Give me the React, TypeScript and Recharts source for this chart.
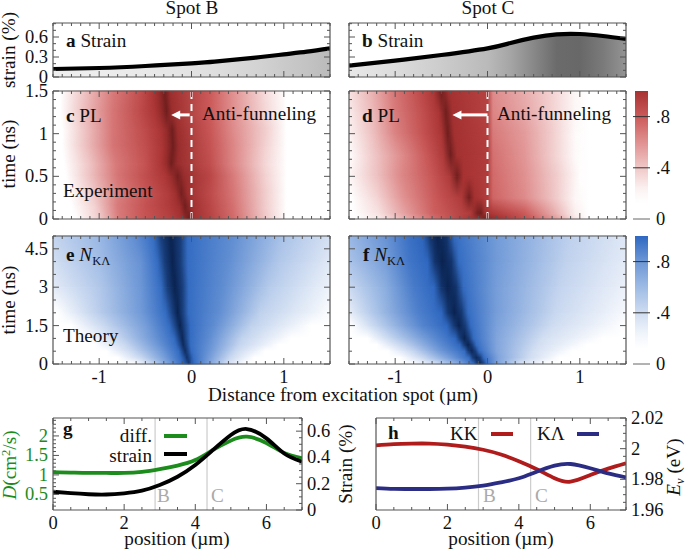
import React from 'react';
import { ComposedChart, Area, Line, XAxis, YAxis, ReferenceArea, ReferenceLine } from 'recharts';

type Stop = [number, number];
type HeatRow = [number, Stop[]];

// strain panels a, b
const strainX = [-1.5, -1, -0.5, 0, 0.25, 0.5, 0.75, 1, 1.25, 1.5];
const strainSpotB = [0.12, 0.135, 0.165, 0.205, 0.23, 0.265, 0.3, 0.34, 0.38, 0.43];
const strainSpotC = [0.17, 0.245, 0.33, 0.43, 0.51, 0.59, 0.64, 0.645, 0.615, 0.57];

// heat rows: time, then [position, intensity] colour stops
const rowsC: HeatRow[] = [
  [0, [[-1.25, 0.1], [-1, 0.38], [-0.78, 0.68], [-0.52, 0.82], [-0.25, 0.92], [-0.1, 1.02], [-0.03, 1.3], [0.03, 1.02], [0.2, 0.92], [0.45, 0.74], [0.8, 0.4], [1.03, 0.1]]],
  [0.15, [[-1.3, 0.1], [-1.05, 0.36], [-0.8, 0.68], [-0.5, 0.84], [-0.25, 0.95], [-0.13, 1.05], [-0.07, 1.3], [0, 1.05], [0.2, 0.9], [0.45, 0.72], [0.8, 0.38], [1.03, 0.1]]],
  [0.3, [[-1.33, 0.1], [-1.08, 0.38], [-0.8, 0.66], [-0.5, 0.82], [-0.25, 0.95], [-0.17, 1.05], [-0.11, 1.28], [-0.04, 1.05], [0.2, 0.88], [0.45, 0.7], [0.8, 0.38], [1.03, 0.1]]],
  [0.5, [[-1.36, 0.1], [-1.1, 0.42], [-0.8, 0.7], [-0.5, 0.86], [-0.28, 0.98], [-0.21, 1.1], [-0.15, 1.28], [-0.08, 1.08], [0.2, 0.9], [0.45, 0.68], [0.8, 0.36], [1.03, 0.1]]],
  [0.65, [[-1.38, 0.1], [-1.12, 0.4], [-0.82, 0.68], [-0.5, 0.84], [-0.33, 0.98], [-0.27, 1.1], [-0.22, 1.3], [-0.15, 1.08], [0.2, 0.86], [0.45, 0.64], [0.8, 0.34], [1.03, 0.1]]],
  [0.85, [[-1.4, 0.1], [-1.15, 0.42], [-0.85, 0.7], [-0.5, 0.86], [-0.32, 0.98], [-0.26, 1.1], [-0.2, 1.32], [-0.14, 1.08], [0.2, 0.84], [0.45, 0.64], [0.8, 0.36], [1.03, 0.1]]],
  [1.05, [[-1.4, 0.1], [-1.15, 0.42], [-0.85, 0.7], [-0.5, 0.88], [-0.34, 0.98], [-0.27, 1.1], [-0.21, 1.3], [-0.15, 1.06], [0.2, 0.82], [0.45, 0.62], [0.8, 0.38], [1.03, 0.1]]],
  [1.25, [[-1.42, 0.1], [-1.18, 0.42], [-0.85, 0.7], [-0.55, 0.88], [-0.4, 0.98], [-0.33, 1.1], [-0.27, 1.3], [-0.21, 1.06], [0.2, 0.8], [0.45, 0.6], [0.8, 0.34], [1.03, 0.1]]],
  [1.5, [[-1.42, 0.1], [-1.18, 0.4], [-0.85, 0.68], [-0.55, 0.86], [-0.42, 0.98], [-0.35, 1.1], [-0.29, 1.3], [-0.23, 1.06], [0.2, 0.8], [0.45, 0.6], [0.8, 0.32], [1.03, 0.1]]],
];

const rowsD: HeatRow[] = [
  [0, [[-1.42, 0.1], [-1.15, 0.28], [-0.9, 0.48], [-0.6, 0.72], [-0.25, 0.95], [-0.07, 1.1], [-0.03, 1.32], [0.01, 1.15], [0.15, 1], [0.45, 0.82], [0.75, 0.55], [0.95, 0.28], [1.1, 0.1]]],
  [0.07, [[-1.45, 0.12], [-1.18, 0.3], [-0.9, 0.54], [-0.58, 0.78], [-0.18, 0.96], [-0.11, 1.25], [-0.07, 1.3], [-0.03, 1.05], [0.02, 0.98], [0.4, 0.8], [0.72, 0.5], [0.95, 0.24], [1.1, 0.08]]],
  [0.25, [[-1.48, 0.14], [-1.2, 0.35], [-0.9, 0.6], [-0.55, 0.82], [-0.28, 0.96], [-0.2, 1.28], [-0.14, 1.02], [0, 0.94], [0.06, 0.76], [0.4, 0.62], [0.7, 0.42], [0.95, 0.2], [1.1, 0.08]]],
  [0.5, [[-1.5, 0.2], [-1.2, 0.42], [-0.95, 0.62], [-0.6, 0.82], [-0.41, 0.96], [-0.33, 1.3], [-0.26, 1], [0, 0.95], [0.06, 0.74], [0.4, 0.6], [0.75, 0.38], [1, 0.16], [1.12, 0.06]]],
  [0.75, [[-1.5, 0.16], [-1.2, 0.42], [-0.95, 0.6], [-0.65, 0.82], [-0.48, 0.96], [-0.4, 1.3], [-0.33, 1.02], [0, 0.95], [0.06, 0.72], [0.4, 0.58], [0.7, 0.38], [0.95, 0.18], [1.1, 0.06]]],
  [1, [[-1.5, 0.22], [-1.25, 0.42], [-1, 0.65], [-0.7, 0.84], [-0.5, 0.98], [-0.43, 1.3], [-0.36, 1.02], [0, 0.94], [0.06, 0.68], [0.4, 0.56], [0.7, 0.38], [0.95, 0.18], [1.1, 0.06]]],
  [1.25, [[-1.5, 0.26], [-1.25, 0.45], [-1, 0.68], [-0.7, 0.86], [-0.53, 0.98], [-0.45, 1.3], [-0.38, 1.02], [0, 0.92], [0.06, 0.64], [0.4, 0.52], [0.7, 0.36], [0.95, 0.2], [1.1, 0.06]]],
  [1.5, [[-1.5, 0.3], [-1.25, 0.48], [-1, 0.7], [-0.75, 0.86], [-0.58, 0.98], [-0.5, 1.33], [-0.42, 1.02], [0, 0.92], [0.06, 0.62], [0.4, 0.5], [0.7, 0.36], [0.95, 0.2], [1.1, 0.06]]],
];

const rowsE: HeatRow[] = [
  [0, [[-0.62, 0.12], [-0.45, 0.4], [-0.25, 0.75], [-0.1, 0.98], [-0.05, 1.15], [-0.03, 1.3], [-0.005, 1.15], [0.03, 0.98], [0.2, 0.72], [0.38, 0.4], [0.58, 0.12]]],
  [0.25, [[-0.8, 0.12], [-0.55, 0.42], [-0.3, 0.75], [-0.12, 0.98], [-0.07, 1.18], [-0.05, 1.32], [-0.02, 1.18], [0.02, 0.98], [0.2, 0.76], [0.42, 0.42], [0.68, 0.12]]],
  [0.5, [[-0.92, 0.12], [-0.65, 0.42], [-0.35, 0.75], [-0.14, 0.98], [-0.1, 1.18], [-0.07, 1.35], [-0.035, 1.18], [0, 0.98], [0.2, 0.8], [0.48, 0.42], [0.8, 0.12]]],
  [0.75, [[-1.05, 0.12], [-0.72, 0.42], [-0.4, 0.76], [-0.17, 0.98], [-0.12, 1.2], [-0.09, 1.36], [-0.05, 1.2], [-0.01, 0.98], [0.2, 0.82], [0.52, 0.44], [0.95, 0.12]]],
  [1, [[-1.14, 0.12], [-0.8, 0.42], [-0.45, 0.76], [-0.19, 0.98], [-0.14, 1.2], [-0.1, 1.38], [-0.06, 1.2], [-0.01, 0.98], [0.2, 0.84], [0.55, 0.45], [1.08, 0.12]]],
  [1.5, [[-1.3, 0.12], [-0.95, 0.42], [-0.5, 0.76], [-0.24, 0.98], [-0.18, 1.2], [-0.125, 1.4], [-0.07, 1.2], [-0.01, 0.98], [0.25, 0.84], [0.65, 0.46], [1.3, 0.12]]],
  [2, [[-1.45, 0.12], [-1.1, 0.42], [-0.55, 0.78], [-0.28, 0.98], [-0.21, 1.22], [-0.15, 1.42], [-0.09, 1.22], [-0.03, 0.98], [0.3, 0.84], [0.75, 0.46], [1.5, 0.14]]],
  [3, [[-1.5, 0.3], [-1, 0.52], [-0.55, 0.8], [-0.33, 0.98], [-0.26, 1.25], [-0.18, 1.45], [-0.1, 1.25], [-0.03, 0.98], [0.35, 0.84], [0.85, 0.5], [1.5, 0.25]]],
  [4, [[-1.5, 0.38], [-1, 0.58], [-0.55, 0.82], [-0.37, 0.98], [-0.29, 1.25], [-0.205, 1.45], [-0.12, 1.25], [-0.04, 0.98], [0.4, 0.84], [0.95, 0.52], [1.5, 0.32]]],
  [5, [[-1.5, 0.45], [-1, 0.62], [-0.6, 0.85], [-0.41, 0.98], [-0.33, 1.25], [-0.225, 1.45], [-0.12, 1.25], [-0.04, 0.98], [0.45, 0.84], [1, 0.55], [1.5, 0.38]]],
];

const rowsF: HeatRow[] = [
  [0, [[-0.8, 0.12], [-0.55, 0.4], [-0.3, 0.72], [-0.15, 0.98], [-0.115, 1.25], [-0.08, 1.36], [-0.045, 1.25], [-0.01, 0.98], [0.1, 0.75], [0.35, 0.38], [0.64, 0.12]]],
  [0.25, [[-0.95, 0.12], [-0.7, 0.42], [-0.4, 0.78], [-0.2, 0.98], [-0.16, 1.25], [-0.12, 1.36], [-0.08, 1.25], [-0.04, 0.98], [0.12, 0.72], [0.45, 0.4], [0.78, 0.12]]],
  [0.5, [[-1.08, 0.12], [-0.8, 0.44], [-0.5, 0.8], [-0.25, 0.98], [-0.21, 1.25], [-0.17, 1.38], [-0.13, 1.25], [-0.09, 0.98], [0.1, 0.72], [0.5, 0.38], [0.92, 0.12]]],
  [0.75, [[-1.2, 0.12], [-0.9, 0.46], [-0.55, 0.82], [-0.3, 1], [-0.255, 1.25], [-0.21, 1.4], [-0.165, 1.25], [-0.12, 0.98], [0.1, 0.72], [0.55, 0.38], [1.08, 0.12]]],
  [1, [[-1.3, 0.12], [-1, 0.48], [-0.6, 0.84], [-0.35, 1], [-0.3, 1.25], [-0.25, 1.42], [-0.2, 1.25], [-0.15, 0.98], [0.1, 0.72], [0.6, 0.38], [1.25, 0.12]]],
  [1.5, [[-1.48, 0.12], [-1.15, 0.5], [-0.7, 0.88], [-0.44, 1], [-0.37, 1.25], [-0.31, 1.42], [-0.24, 1.25], [-0.18, 0.98], [0.1, 0.74], [0.7, 0.4], [1.5, 0.12]]],
  [2, [[-1.5, 0.28], [-1.2, 0.55], [-0.75, 0.9], [-0.5, 1], [-0.43, 1.28], [-0.36, 1.45], [-0.28, 1.28], [-0.21, 0.98], [0.1, 0.76], [0.75, 0.42], [1.5, 0.18]]],
  [3, [[-1.5, 0.42], [-1.1, 0.68], [-0.8, 0.92], [-0.58, 1], [-0.5, 1.3], [-0.43, 1.45], [-0.34, 1.3], [-0.26, 0.98], [0.1, 0.76], [0.8, 0.44], [1.5, 0.26]]],
  [4, [[-1.5, 0.55], [-1.1, 0.76], [-0.85, 0.94], [-0.65, 1], [-0.57, 1.3], [-0.49, 1.45], [-0.39, 1.3], [-0.31, 0.98], [0.1, 0.78], [0.85, 0.46], [1.5, 0.3]]],
  [5, [[-1.5, 0.62], [-1.1, 0.82], [-0.85, 0.96], [-0.7, 1.02], [-0.62, 1.3], [-0.54, 1.45], [-0.44, 1.3], [-0.36, 0.98], [0.1, 0.78], [0.9, 0.47], [1.5, 0.33]]],
];

// colour maps
const redMap: [number, string][] = [[0, '#ffffff'], [0.15, '#ffffff'], [0.25, '#fbeeee'], [0.4, '#f0c8c8'], [0.6, '#e09090'], [0.8, '#cc5a5a'], [1, '#a83232'], [1.3, '#701e1e']];
const blueMap: [number, string][] = [[0, '#ffffff'], [0.12, '#ffffff'], [0.25, '#eef3fa'], [0.4, '#cfdcf1'], [0.6, '#9ebbe5'], [0.8, '#6d97d6'], [1, '#2f68c1'], [1.4, '#0a2350']];
const grayMap: [number, string][] = [[0, '#ffffff'], [0.2, '#e4e4e4'], [0.45, '#b6b6b6'], [0.57, '#949494'], [0.645, '#686868']];
const barLevels = [0, 0.12, 0.2, 0.25, 0.4, 0.6, 0.8, 1];

// bottom panels g, h
const positions = [0, 0.5, 1, 1.5, 2, 2.5, 3, 3.5, 4, 4.5, 5, 5.45, 6, 6.5, 7];
const diffusion = [1.07, 1.06, 1.05, 1.05, 1.05, 1.08, 1.15, 1.24, 1.38, 1.64, 1.88, 1.98, 1.82, 1.56, 1.43];
const strainLine = [0.139, 0.128, 0.12, 0.118, 0.127, 0.147, 0.19, 0.253, 0.342, 0.457, 0.57, 0.616, 0.545, 0.43, 0.367];
const energyKK = [2.0022, 2.003, 2.0033, 2.0033, 2.0026, 2.0013, 1.9993, 1.9962, 1.9918, 1.9866, 1.9807, 1.9785, 1.9828, 1.987, 1.9905];
const energyKL = [1.9743, 1.9738, 1.9737, 1.9737, 1.9739, 1.9746, 1.9759, 1.978, 1.9807, 1.985, 1.9889, 1.99, 1.9872, 1.9839, 1.9813];
const spotLines = [2.87, 4.33];

const FRAME = '#555';
const GREEN = '#1c8c1c';
const FS = 18.5;
const TEXT_FS = 19.2;

function steps(a: number, b: number, s: number) {
  const out: number[] = [];
  const n = Math.round((b - a) / s);
  for (let i = 0; i <= n; i++) out.push(+(a + i * s).toFixed(4));
  return out;
}

function lookup(map: [number, string][], v: number) {
  if (v <= map[0][0]) return map[0][1];
  for (let i = 1; i < map.length; i++) {
    if (v <= map[i][0]) {
      const [a, ca] = map[i - 1];
      const [b, cb] = map[i];
      const f = (v - a) / (b - a);
      const ch = (c: string, k: number) => parseInt(c.slice(k, k + 2), 16);
      const mix = (k: number) => Math.round(ch(ca, k) + (ch(cb, k) - ch(ca, k)) * f);
      return `rgb(${mix(1)},${mix(3)},${mix(5)})`;
    }
  }
  return map[map.length - 1][1];
}

type Side = 'left' | 'right' | 'top' | 'bottom';

function makeTick(side: Side, majors: number[], labels: Record<string, string> = {}, color = '#111', len = [3, 6]) {
  return (p: any) => {
    const v = p.payload.value;
    const l = majors.includes(v) ? len[1] : len[0];
    const { x, y } = p;
    const txt = labels[String(v)];
    const mark =
      side === 'left' ? [x, y, x + l, y] : side === 'right' ? [x, y, x - l, y] : side === 'top' ? [x, y, x, y + l] : [x, y, x, y - l];
    return (
      <g>
        <line x1={mark[0]} y1={mark[1]} x2={mark[2]} y2={mark[3]} stroke={FRAME} strokeWidth={1} />
        {txt && side === 'left' && <text x={x - 5} y={y + 6} textAnchor="end" fontSize={FS} fill={color}>{txt}</text>}
        {txt && side === 'right' && <text x={x + 5} y={y + 6} textAnchor="start" fontSize={FS} fill={color}>{txt}</text>}
        {txt && side === 'bottom' && <text x={x} y={y + 19} textAnchor="middle" fontSize={FS} fill={color}>{txt}</text>}
      </g>
    );
  };
}

const axisBase = { mirror: true, tickSize: 0, tickMargin: 0, interval: 0 as const, allowDataOverflow: true, tickLine: false, axisLine: { stroke: FRAME, strokeWidth: 1.2 } };

interface FrameOpts {
  xKey: string;
  xDomain: number[];
  xTicks: number[];
  xMajors: number[];
  xLabels?: Record<string, string>;
  yDomain: number[];
  yTicks: number[];
  yMajors: number[];
  yLabels?: Record<string, string>;
  yColor?: string;
  rDomain?: number[];
  rTicks?: number[];
  rMajors?: number[];
  rLabels?: Record<string, string>;
}

function frameAxes(o: FrameOpts) {
  return [
    <XAxis key="b" dataKey={o.xKey} type="number" orientation="bottom" domain={o.xDomain} ticks={o.xTicks} {...axisBase} tick={makeTick('bottom', o.xMajors, o.xLabels)} />,
    <XAxis key="t" xAxisId="t" dataKey={o.xKey} type="number" orientation="top" domain={o.xDomain} ticks={o.xTicks} {...axisBase} tick={makeTick('top', o.xMajors)} />,
    <YAxis key="l" type="number" orientation="left" domain={o.yDomain} ticks={o.yTicks} {...axisBase} tick={makeTick('left', o.yMajors, o.yLabels, o.yColor)} />,
    <YAxis key="r" yAxisId="r" type="number" orientation="right" domain={o.rDomain ?? o.yDomain} ticks={o.rTicks ?? o.yTicks} {...axisBase} tick={makeTick('right', o.rMajors ?? o.yMajors, o.rLabels)} />,
  ];
}

function Layer({ children }: { children: React.ReactNode }) {
  return <div style={{ position: 'absolute', left: 0, top: 0 }}>{children}</div>;
}

const distTicks = steps(-1.5, 1.5, 0.1);
const distMajors = [-1, 0, 1];
const distDomain = [-1.5, 1.5];
const distLabels = { '-1': '-1', '0': '0', '1': '1' };

function box(left: number, right: number, top: number, bottom: number) {
  return { left, right: 685 - right, top, bottom: 550 - bottom };
}

function StrainPanel({ id, values, left, right, labelled }: { id: string; values: number[]; left: number; right: number; labelled: boolean }) {
  const data = strainX.map((x, i) => ({ x, v: values[i] }));
  return (
    <Layer>
      <ComposedChart width={685} height={550} data={data} margin={box(left, right, 23, 77)}>
        {frameAxes({
          xKey: 'x', xDomain: distDomain, xTicks: distTicks, xMajors: distMajors,
          yDomain: [0, 0.81], yTicks: steps(0, 0.8, 0.1), yMajors: [0, 0.3, 0.6],
          yLabels: labelled ? { '0': '0', '0.3': '0.3', '0.6': '0.6' } : {},
        })}
        <Area dataKey="v" type="natural" stroke="#000" strokeWidth={4.2} fill={`url(#${id})`} fillOpacity={1} isAnimationActive={false} />
      </ComposedChart>
    </Layer>
  );
}

function HeatPanel(props: {
  id: string; rows: HeatRow[]; left: number; right: number; top: number; bottom: number;
  yMax: number; yTicks: number[]; yMajors: number[]; yLabels?: Record<string, string>; xLabels?: Record<string, string>;
  arrow?: [number, number, number]; dashed?: boolean;
}) {
  const { id, rows, arrow } = props;
  const bands = rows.slice(0, -1).map((r, i) => ({ y1: r[0], y2: rows[i + 1][0], i }));
  return (
    <Layer>
      <ComposedChart width={685} height={550} data={distDomain.map(x => ({ x }))} margin={box(props.left, props.right, props.top, props.bottom)}>
        {bands.map(b => (
          <ReferenceArea key={`a${b.i}`} x1={-1.5} x2={1.5} y1={b.y1} y2={b.y2} ifOverflow="visible"
            shape={(p: any) => (
              <g>
                <rect x={p.x} y={p.y - 0.5} width={p.width} height={p.height + 1} fill={`url(#${id}-${b.i})`} />
                <rect x={p.x} y={p.y} width={p.width} height={p.height} fill={`url(#${id}-${b.i + 1})`} mask="url(#fade)" />
              </g>
            )}
          />
        ))}
        {frameAxes({
          xKey: 'x', xDomain: distDomain, xTicks: distTicks, xMajors: distMajors, xLabels: props.xLabels,
          yDomain: [0, props.yMax], yTicks: props.yTicks, yMajors: props.yMajors, yLabels: props.yLabels,
        })}
        {props.dashed && <ReferenceLine x={0} stroke="#fff" strokeWidth={2} strokeDasharray="7 5" ifOverflow="visible" />}
        {arrow && (
          <ReferenceLine
            segment={[{ x: arrow[0], y: arrow[2] }, { x: arrow[1], y: arrow[2] }]}
            ifOverflow="visible"
            shape={(p: any) => (
              <g>
                <line x1={p.x1} y1={p.y1} x2={p.x2 + 5} y2={p.y2} stroke="#fff" strokeWidth={3} />
                <polygon points={`${p.x2},${p.y2} ${p.x2 + 9},${p.y2 - 4.5} ${p.x2 + 9},${p.y2 + 4.5}`} fill="#fff" />
              </g>
            )}
          />
        )}
      </ComposedChart>
    </Layer>
  );
}

function ColorBar({ id, top, bottom }: { id: string; top: number; bottom: number }) {
  const barTick = (p: any) => {
    const v = p.payload.value;
    return (
      <g>
        <line x1={p.x - 15} y1={p.y} x2={p.x + 2} y2={p.y} stroke={v === 0 ? '#666' : '#333'} strokeWidth={1} />
        <text x={p.x + 8} y={p.y + 6} fontSize={FS} fill="#111">{v === 0 ? '0' : String(v).replace('0.', '.')}</text>
      </g>
    );
  };
  return (
    <Layer>
      <ComposedChart width={685} height={550} data={[{ x: 0, v: 1 }, { x: 1, v: 1 }]} margin={box(635, 648, top, bottom)}>
        <XAxis dataKey="x" type="number" domain={[0, 1]} hide />
        <Area dataKey="v" type="linear" stroke="none" fill={`url(#${id})`} fillOpacity={1} isAnimationActive={false} />
        <YAxis type="number" orientation="right" domain={[0, 1]} ticks={[0, 0.4, 0.8]} {...axisBase} axisLine={false} tick={barTick} />
      </ComposedChart>
    </Layer>
  );
}

function Defs() {
  const rowGradient = (id: string, rows: HeatRow[], map: [number, string][]) =>
    rows.map((r, i) => (
      <linearGradient key={`${id}-${i}`} id={`${id}-${i}`} x1="0" y1="0" x2="1" y2="0">
        {r[1].map(([x, v], k) => <stop key={k} offset={(x + 1.5) / 3} stopColor={lookup(map, v)} />)}
      </linearGradient>
    ));
  const strainGradient = (id: string, values: number[]) => (
    <linearGradient id={id} x1="0" y1="0" x2="1" y2="0">
      {values.map((v, k) => <stop key={k} offset={(strainX[k] + 1.5) / 3} stopColor={lookup(grayMap, v)} />)}
    </linearGradient>
  );
  const barGradient = (id: string, map: [number, string][]) => (
    <linearGradient id={id} x1="0" y1="1" x2="0" y2="0">
      {barLevels.map(v => <stop key={v} offset={v} stopColor={lookup(map, v)} />)}
    </linearGradient>
  );
  return (
    <svg width={0} height={0} style={{ position: 'absolute' }}>
      <defs>
        <linearGradient id="fadeRamp" x1="0" y1="0" x2="0" y2="1">
          <stop offset="0" stopColor="#fff" />
          <stop offset="1" stopColor="#000" />
        </linearGradient>
        <mask id="fade" maskContentUnits="objectBoundingBox" x="0" y="0" width="1" height="1">
          <rect x="0" y="0" width="1" height="1" fill="url(#fadeRamp)" />
        </mask>
        {rowGradient('hc', rowsC, redMap)}
        {rowGradient('hd', rowsD, redMap)}
        {rowGradient('he', rowsE, blueMap)}
        {rowGradient('hf', rowsF, blueMap)}
        {strainGradient('sa', strainSpotB)}
        {strainGradient('sb', strainSpotC)}
        {barGradient('barR', redMap)}
        {barGradient('barB', blueMap)}
      </defs>
    </svg>
  );
}

function Texts() {
  const rot = (x: number, y: number) => `rotate(-90 ${x} ${y})`;
  const gray = '#aaa';
  return (
    <svg width={685} height={550} style={{ position: 'absolute', left: 0, top: 0 }} fontSize={TEXT_FS} fill="#111">
      <text x={192} y={14} textAnchor="middle">Spot B</text>
      <text x={488} y={14} textAnchor="middle">Spot C</text>
      <text x={15} y={50} textAnchor="middle" transform={rot(15, 50)}>strain (%)</text>
      <text x={15} y={154} textAnchor="middle" transform={rot(15, 154)}>time (ns)</text>
      <text x={15} y={300} textAnchor="middle" transform={rot(15, 300)}>time (ns)</text>

      <text x={66} y={47}><tspan fontWeight="bold">a</tspan> Strain</text>
      <text x={362} y={47}><tspan fontWeight="bold">b</tspan> Strain</text>
      <text x={66} y={122}><tspan fontWeight="bold">c</tspan> PL</text>
      <text x={362} y={122}><tspan fontWeight="bold">d</tspan> PL</text>
      <text x={202} y={120}>Anti-funneling</text>
      <text x={497} y={120}>Anti-funneling</text>
      <text x={63} y={197}>Experiment</text>
      <text x={66} y={261}><tspan fontWeight="bold">e</tspan> <tspan fontStyle="italic">N</tspan><tspan fontSize={12.5} dy={4}>KΛ</tspan></text>
      <text x={363} y={261}><tspan fontWeight="bold">f</tspan> <tspan fontStyle="italic">N</tspan><tspan fontSize={12.5} dy={4}>KΛ</tspan></text>
      <text x={63} y={342}>Theory</text>
      <text x={343} y={401} textAnchor="middle">Distance from excitation spot (µm)</text>

      <text x={63} y={435} fontWeight="bold">g</text>
      <text x={152} y={442} textAnchor="end">diff.</text>
      <text x={152} y={462} textAnchor="end">strain</text>
      <line x1={164} x2={187} y1={436} y2={436} stroke={GREEN} strokeWidth={4} />
      <line x1={164} x2={187} y1={454} y2={454} stroke="#000" strokeWidth={4} />
      <text x={157} y={502} fill={gray}>B</text>
      <text x={211} y={502} fill={gray}>C</text>
      <text x={177} y={545} textAnchor="middle">position (µm)</text>
      <text x={16} y={465} textAnchor="middle" transform={rot(16, 465)} fill={GREEN}><tspan fontStyle="italic">D</tspan>(cm<tspan fontSize={12.5} dy={-6}>2</tspan><tspan dy={6}>/s)</tspan></text>
      <text x={352} y={464} textAnchor="middle" transform={rot(352, 464)}>Strain (%)</text>

      <text x={388} y={439} fontWeight="bold">h</text>
      <text x={450} y={440}>KK</text>
      <line x1={491} x2={513} y1={434} y2={434} stroke="#b01c1c" strokeWidth={4} />
      <text x={537} y={440}>KΛ</text>
      <line x1={577} x2={599} y1={434} y2={434} stroke="#2b2d85" strokeWidth={4} />
      <text x={483} y={502} fill={gray}>B</text>
      <text x={535} y={502} fill={gray}>C</text>
      <text x={501} y={545} textAnchor="middle">position (µm)</text>
      <text x={680} y={467} textAnchor="middle" transform={rot(680, 467)}><tspan fontStyle="italic">E</tspan><tspan fontStyle="italic" fontSize={12.5} dy={4}>v</tspan><tspan dy={-4}> (eV)</tspan></text>
    </svg>
  );
}

const posTicks = steps(0, 7, 0.5);
const posMajors = [0, 2, 4, 6];
const posLabels = { '0': '0', '2': '2', '4': '4', '6': '6' };

function DiffusionPanel() {
  const data = positions.map((p, i) => ({ p, d: diffusion[i], s: strainLine[i] }));
  return (
    <Layer>
      <ComposedChart width={685} height={550} data={data} margin={box(53, 302, 418, 510)}>
        {frameAxes({
          xKey: 'p', xDomain: [0, 7], xTicks: posTicks, xMajors: posMajors, xLabels: posLabels,
          yDomain: [0.1, 2.46], yTicks: steps(0.2, 2.4, 0.1), yMajors: [0.5, 1, 1.5, 2],
          yLabels: { '0.5': '0.5', '1': '1', '1.5': '1.5', '2': '2' }, yColor: GREEN,
          rDomain: [0, 0.7], rTicks: steps(0, 0.7, 0.05), rMajors: [0, 0.2, 0.4, 0.6],
          rLabels: { '0': '0', '0.2': '0.2', '0.4': '0.4', '0.6': '0.6' },
        })}
        {spotLines.map(x => <ReferenceLine key={x} x={x} stroke="#ccc" strokeWidth={1.2} />)}
        <Line dataKey="d" type="natural" stroke={GREEN} strokeWidth={3.8} dot={false} isAnimationActive={false} />
        <Line dataKey="s" yAxisId="r" type="natural" stroke="#000" strokeWidth={3.8} dot={false} isAnimationActive={false} />
      </ComposedChart>
    </Layer>
  );
}

function EnergyPanel() {
  const data = positions.map((p, i) => ({ p, kk: energyKK[i], kl: energyKL[i] }));
  return (
    <Layer>
      <ComposedChart width={685} height={550} data={data} margin={box(376, 626, 418, 510)}>
        {frameAxes({
          xKey: 'p', xDomain: [0, 7], xTicks: posTicks, xMajors: posMajors, xLabels: posLabels,
          yDomain: [1.96, 2.02], yTicks: [], yMajors: [],
          rDomain: [1.96, 2.02], rTicks: steps(1.96, 2.02, 0.005), rMajors: [1.96, 1.98, 2, 2.02],
          rLabels: { '1.96': '1.96', '1.98': '1.98', '2': '2', '2.02': '2.02' },
        })}
        {spotLines.map(x => <ReferenceLine key={x} x={x} stroke="#ccc" strokeWidth={1.2} />)}
        <Line dataKey="kk" type="natural" stroke="#b01c1c" strokeWidth={3.8} dot={false} isAnimationActive={false} />
        <Line dataKey="kl" type="natural" stroke="#2b2d85" strokeWidth={3.8} dot={false} isAnimationActive={false} />
      </ComposedChart>
    </Layer>
  );
}

export default function App() {
  const plTicks = steps(0, 1.5, 0.1);
  const plMajors = [0, 0.5, 1, 1.5];
  const plLabels = { '0': '0', '0.5': '0.5', '1': '1', '1.5': '1.5' };
  const thTicks = steps(0, 5, 0.5);
  const thMajors = [0, 1.5, 3, 4.5];
  const thLabels = { '0': '0', '1.5': '1.5', '3': '3', '4.5': '4.5' };
  const XL = 53, XR = 330, XL2 = 349, XR2 = 626;
  return (
    <div style={{ position: 'absolute', left: 0, top: 0, width: 685, height: 550, background: '#fff', fontFamily: '"Liberation Serif", serif' }}>
      <Defs />
      <StrainPanel id="sa" values={strainSpotB} left={XL} right={XR} labelled />
      <StrainPanel id="sb" values={strainSpotC} left={XL2} right={XR2} labelled={false} />
      <HeatPanel id="hc" rows={rowsC} left={XL} right={XR} top={91} bottom={219} yMax={1.5} yTicks={plTicks} yMajors={plMajors} yLabels={plLabels} arrow={[-0.02, -0.22, 1.22]} dashed />
      <HeatPanel id="hd" rows={rowsD} left={XL2} right={XR2} top={91} bottom={219} yMax={1.5} yTicks={plTicks} yMajors={plMajors} arrow={[0, -0.38, 1.22]} dashed />
      <HeatPanel id="he" rows={rowsE} left={XL} right={XR} top={236} bottom={364} yMax={5} yTicks={thTicks} yMajors={thMajors} yLabels={thLabels} xLabels={distLabels} />
      <HeatPanel id="hf" rows={rowsF} left={XL2} right={XR2} top={236} bottom={364} yMax={5} yTicks={thTicks} yMajors={thMajors} xLabels={distLabels} />
      <ColorBar id="barR" top={91} bottom={219} />
      <ColorBar id="barB" top={236} bottom={364} />
      <DiffusionPanel />
      <EnergyPanel />
      <Texts />
    </div>
  );
}
